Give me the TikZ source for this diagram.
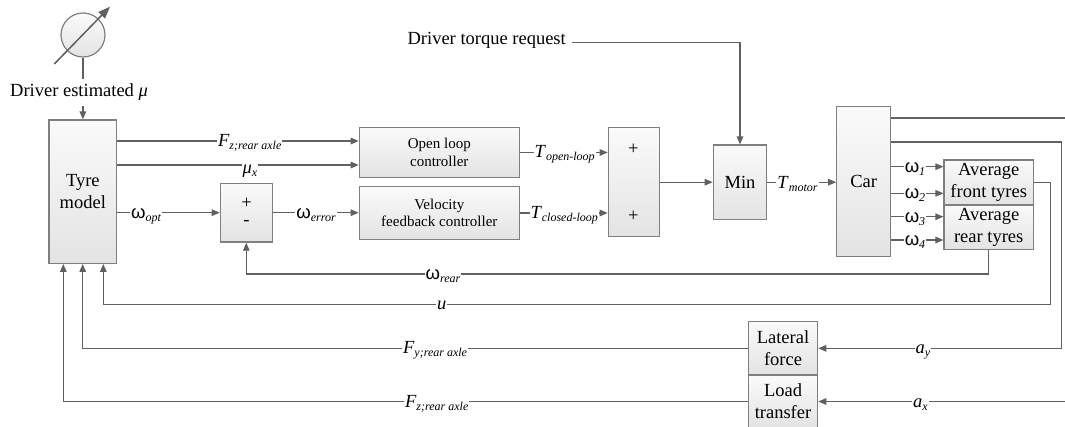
\documentclass[tikz,border=0pt]{standalone}
\usepackage{fontspec}
\setmainfont{Liberation Serif}
\newfontfamily\omegafont{Liberation Sans}
\usetikzlibrary{arrows.meta,calc}
\definecolor{linec}{HTML}{606060}
\definecolor{boxc}{HTML}{7F7F7F}
\definecolor{boxtop}{HTML}{FAFAFA}
\definecolor{boxbot}{HTML}{E3E3E3}
\newcommand{\mainsz}{\fontsize{18.5}{22.3}\selectfont}
\newcommand{\ctlsz}{\fontsize{15}{17.7}\selectfont}
\newcommand{\subsz}{\fontsize{12}{12}\selectfont}
\newcommand{\lv}[2]{\textit{#1}\raisebox{-3pt}{\subsz\itshape #2}}
\newcommand{\lw}[1]{{\omegafont ω}\raisebox{-3pt}{\subsz\itshape #1}}
\begin{document}
\begin{tikzpicture}[x=1pt,y=-1pt,
  blk/.style={draw=boxc, line width=1.2pt, top color=boxtop, bottom color=boxbot,
    align=center, font=\mainsz, inner sep=0pt},
  conn/.style={draw=linec, line width=1.3pt},
  arr/.style={conn, -{Triangle[length=8pt,width=6.5pt]}},
  lab/.style={fill=white, inner sep=1pt, anchor=base, font=\mainsz},
  sign/.style={font=\mainsz, inner sep=0pt}]
\useasboundingbox (0,0) rectangle (1065,426);

% gauge
\node[circle, draw=boxc, line width=1.2pt, top color=boxtop, bottom color=boxbot,
  minimum size=44pt, inner sep=0pt] (gauge) at (83,35) {};
\draw[linec, line width=1.5pt, -{Triangle[length=12pt,width=9pt]}]
  ($(gauge.center)+(-28.7,29)$) -- ($(gauge.center)+(27,-28.3)$);
\node[font=\mainsz, inner ysep=5pt] (drvmu) at (79,92.5) {Driver estimated \textit{μ}};

% blocks
\node[blk, minimum width=67.7pt, minimum height=143.3pt] (tyre) at (82.85,191.65) {Tyre\\model};
\node[blk, font=\ctlsz, minimum width=160pt, minimum height=49.6pt] (open) at (439.3,152.5) {Open loop\\controller};
\node[blk, font=\ctlsz, minimum width=160pt, minimum height=52.6pt] (vel) at (439.3,213) {Velocity\\feedback controller};
\node[blk, minimum width=52pt, minimum height=58.7pt] (sum1) at (246.3,212.7) {};
\node[blk, minimum width=51pt, minimum height=109pt] (sum2) at (633.8,182.2) {};
\node[blk, minimum width=53.4pt, minimum height=74.3pt] (min) at (740,182.2) {Min};
\node[blk, minimum width=54pt, minimum height=150pt] (car) at (863.7,181.7) {Car};
\node[blk, minimum width=89.3pt, minimum height=45pt] (avgf) at (988.7,182.5) {Average\\front tyres};
\node[blk, minimum width=89.3pt, minimum height=44.3pt] (avgr) at (988.7,227.2) {Average\\rear tyres};
\node[blk, minimum width=69.4pt, minimum height=53.3pt] (lat) at (783,348.35) {Lateral\\force};
\node[blk, minimum width=69.4pt, minimum height=53pt] (load) at (783,401.5) {Load\\transfer};

\node[sign] (s1p) at (246.5,203.3) {+};
\node[sign] (s1m) at (246.5,223.3) {-};
\node[sign] (s2a) at (633.3,149.3) {+};
\node[sign] (s2b) at (633.3,216) {+};

\node[font=\mainsz, inner xsep=6pt] (torq) at (486.7,40.8) {Driver torque request};

% coordinates
\coordinate (yfz) at (0,141);
\coordinate (ymu) at (0,165);
\coordinate (w1) at (0,166.7);
\coordinate (w2) at (0,193.3);
\coordinate (w3) at (0,216.7);
\coordinate (w4) at (0,240);
\coordinate (r1) at (988.7,274);
\coordinate (u1) at (1050.7,304.3);
\coordinate (u2) at (103.3,304.3);
\coordinate (c2) at (1061.7,142);
\coordinate (c1) at (1080,118);
\coordinate (fy) at (82.7,348.3);
\coordinate (fz) at (63.3,401.5);

% connectors
\draw[conn] (gauge.south) -- (gauge.south |- drvmu.north);
\draw[arr] (drvmu.south -| tyre.north) -- (tyre.north);
\draw[arr] ([yshift=-2pt]torq.east) -| (min.north);
\draw[arr] (tyre.east |- yfz) -- (open.west |- yfz);
\draw[arr] (tyre.east |- ymu) -- (open.west |- ymu);
\draw[arr] (tyre.east |- sum1.west) -- (sum1.west);
\draw[arr] (sum1.east) -- (vel.west |- sum1.east);
\draw[arr] (open.east) -- (sum2.west |- open.east);
\draw[arr] (vel.east) -- (sum2.west |- vel.east);
\draw[arr] (sum2.east) -- (min.west |- sum2.east);
\draw[arr] (min.east) -- (car.west |- min.east);
\draw[arr] (car.east |- w1) -- (avgf.west |- w1);
\draw[arr] (car.east |- w2) -- (avgf.west |- w2);
\draw[arr] (car.east |- w3) -- (avgr.west |- w3);
\draw[arr] (car.east |- w4) -- (avgr.west |- w4);
\draw[arr] (avgr.south) -- (r1) -| (sum1.south);
\draw[arr] (avgf.east) -| (u1) -- (u2) -- (u2 |- tyre.south);
\draw[arr] (car.east |- c2) -- (c2) |- (lat.east);
\draw[arr] (car.east |- c1) -- (c1) |- (load.east);
\draw[arr] (lat.west) -- (lat.west -| fy) -- (fy |- tyre.south);
\draw[arr] (load.west) -- (load.west -| fz) -- (fz |- tyre.south);

% labels
\node[lab] (lfz) at (249.7,146.5) {\lv{F}{z;rear axle}};
\node[lab] (lmu) at (250,173.5) {\lv{μ}{x}};
\node[lab] (lopt) at (146,218.5) {\lw{opt}};
\node[lab] (lerr) at (316,218.5) {\lw{error}};
\node[lab] (lto) at (564.7,157.5) {\lv{T}{open-loop}};
\node[lab] (ltc) at (564.2,218.5) {\lv{T}{closed-loop}};
\node[lab] (ltm) at (797.5,188.5) {\lv{T}{motor}};
\node[lab] (lw1) at (915,172.2) {\lw{1}};
\node[lab] (lw2) at (915,198.8) {\lw{2}};
\node[lab] (lw3) at (915,222.2) {\lw{3}};
\node[lab] (lw4) at (915,245.5) {\lw{4}};
\node[lab] (lwr) at (443,279.5) {\lw{rear}};
\node[lab] (lu) at (441.7,309.8) {\textit{u}};
\node[lab] (lfy) at (435,353.8) {\lv{F}{y;rear axle}};
\node[lab] (lfz2) at (436.7,407) {\lv{F}{z;rear axle}};
\node[lab] (lay) at (923,353.8) {\lv{a}{y}};
\node[lab] (lax) at (920.5,407.5) {\lv{a}{x}};
\end{tikzpicture}
\end{document}
